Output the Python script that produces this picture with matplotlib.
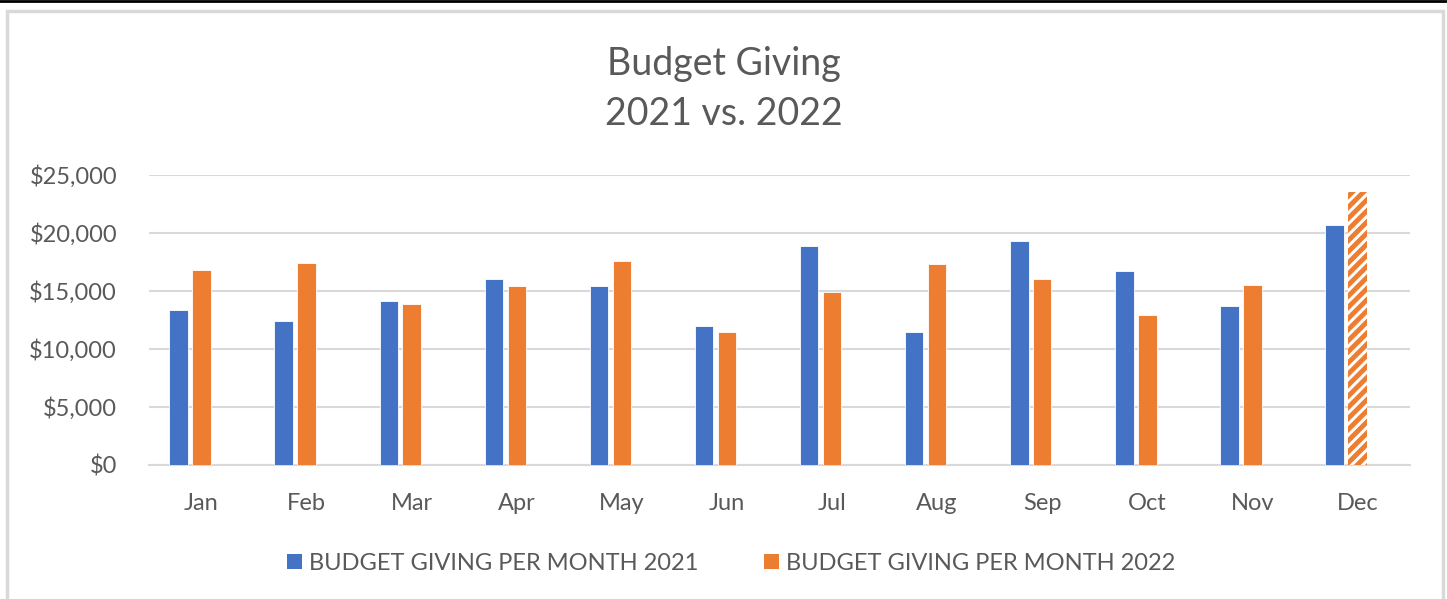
import numpy as np
import matplotlib
matplotlib.use("Agg")
import matplotlib.pyplot as plt
from matplotlib.patches import Patch, Rectangle
from matplotlib.lines import Line2D
from matplotlib.ticker import FuncFormatter

months = ['Jan', 'Feb', 'Mar', 'Apr', 'May', 'Jun',
          'Jul', 'Aug', 'Sep', 'Oct', 'Nov', 'Dec']
giving_2021 = [13400, 12400, 14100, 16000, 15400, 12000,
               18900, 11500, 19300, 16700, 13700, 20700]
giving_2022 = [16800, 17400, 13900, 15400, 17600, 11500,
               14900, 17300, 16000, 12900, 15500, 23500]
# last 2022 month is a projection -> hatched
projected_2022 = [False] * 11 + [True]

label_2021 = 'BUDGET GIVING PER MONTH 2021'
label_2022 = 'BUDGET GIVING PER MONTH 2022'

blue = '#4472C4'
orange = '#ED7D31'
grey_txt = '#595959'
grid_c = '#D9D9D9'

plt.rcParams['font.family'] = ['Lato', 'DejaVu Sans']
plt.rcParams['hatch.linewidth'] = 3.5
plt.rcParams['hatch.color'] = orange

fig = plt.figure(figsize=(14.47, 5.99), dpi=100)
ax = fig.add_axes([149 / 1447, 1 - 465 / 599, 1261 / 1447, 290 / 599])

x = np.arange(len(months))
w = 0.176
# 2022 bar sits on the category centre, 2021 bar just left of it
off_2021 = -0.218
off_2022 = 0.0
ax.bar(x + off_2021, giving_2021, width=w, color=blue,
       edgecolor='white', linewidth=0.6, zorder=3)
for xi, v, proj in zip(x, giving_2022, projected_2022):
    if proj:
        ax.bar(xi + off_2022, v, width=w, color='white', hatch='///',
               edgecolor=orange, linewidth=0, zorder=3)
    else:
        ax.bar(xi + off_2022, v, width=w, color=orange,
               edgecolor='white', linewidth=0.6, zorder=3)

ax.set_xlim(-0.5, len(months) - 0.5)
ax.set_ylim(0, 25000)
ax.set_yticks(np.arange(0, 25001, 5000))
ax.yaxis.set_major_formatter(FuncFormatter(lambda v, p: '${:,.0f}'.format(v)))
ax.set_xticks(x)
ax.set_xticklabels(months)
ax.grid(axis='y', color=grid_c, linewidth=1.5, zorder=0)
for s in ['top', 'right', 'left']:
    ax.spines[s].set_visible(False)
ax.spines['bottom'].set_color(grid_c)
ax.spines['bottom'].set_linewidth(1.5)
ax.tick_params(axis='both', length=0, labelsize=17, labelcolor=grey_txt)
ax.tick_params(axis='y', pad=23)
ax.tick_params(axis='x', pad=20)

fig.text(0.5, 1 - 89 / 599, 'Budget Giving\n2021 vs. 2022', ha='center', va='center',
         fontsize=27, color=grey_txt, linespacing=1.5)

handles = [Patch(facecolor=blue, edgecolor='none'),
           Patch(facecolor=orange, edgecolor='none')]
fig.legend(handles, [label_2021, label_2022], loc='center',
           bbox_to_anchor=(731 / 1447, 1 - 563 / 599), ncol=2, frameon=False,
           fontsize=17, labelcolor=grey_txt, handlelength=0.64, handleheight=0.6,
           handletextpad=0.3, columnspacing=2.75)

# outer chart border and top black line
fig.add_artist(Rectangle((7 / 1447, -0.05), 1436 / 1447, 1.05 - 11 / 599,
                         transform=fig.transFigure, fill=False,
                         edgecolor='#D9D9D9', linewidth=2.5))
fig.add_artist(Line2D([0, 1], [1 - 1 / 599, 1 - 1 / 599], transform=fig.transFigure,
                      color='black', linewidth=2))

fig.savefig('out.png', dpi=100)
